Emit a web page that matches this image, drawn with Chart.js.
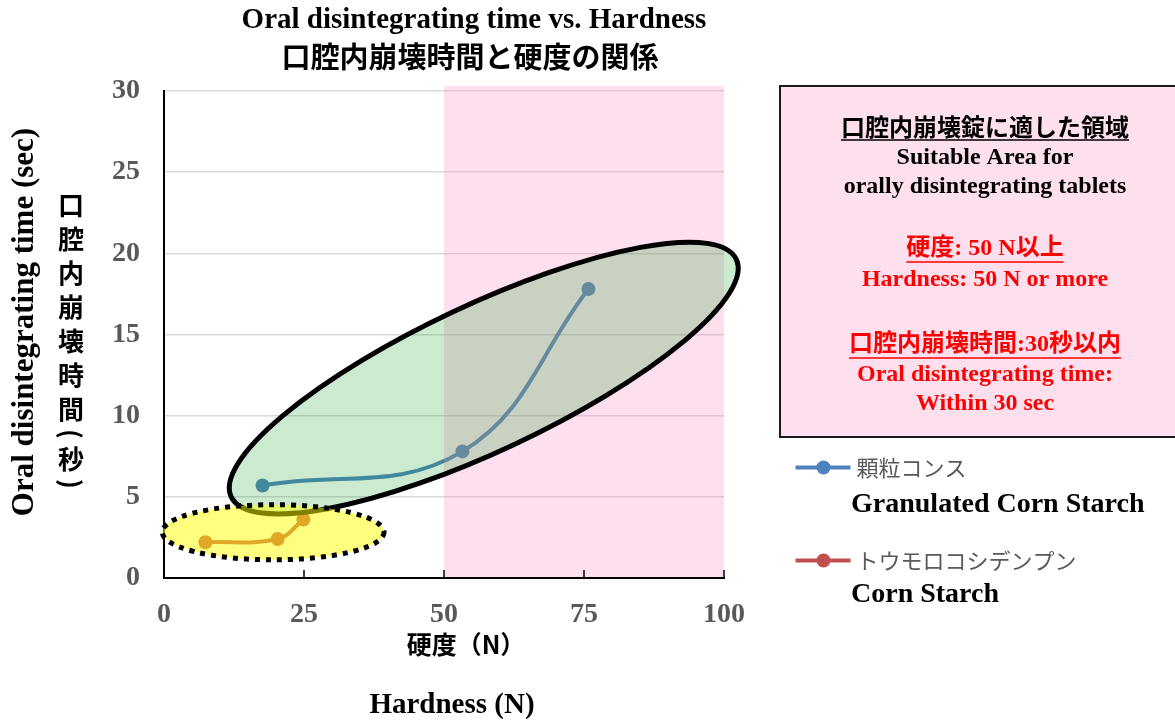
<!DOCTYPE html>
<html>
<head>
<meta charset="utf-8">
<script src="https://cdn.jsdelivr.net/npm/chart.js@4.4.1/dist/chart.umd.min.js"></script>
<style>
  html, body { margin: 0; padding: 0; background: #ffffff; overflow: hidden; }
  #wrap { width: 1175px; height: 721px; position: relative; }
  canvas { display: block; }
</style>
</head>
<body>
<div id="wrap"><canvas id="chart" width="1175" height="721"></canvas></div>
<script>
// Tick values of both axes
const hardnessTicks = [0, 25, 50, 75, 100];
const timeTicks = [0, 5, 10, 15, 20, 25, 30];

// 顆粒コンス (granulated corn starch)
const granulatedHardness = [17.6, 53.3, 75.8];
const granulatedTime = [5.7, 7.8, 17.8];

// トウモロコシデンプン (corn starch)
const cornHardness = [7.4, 20.3, 24.9];
const cornTime = [2.2, 2.4, 3.6];

// Suitable region for orally disintegrating tablets (hardness >= 50 N)
const suitableHardness = [50, 100];
const suitableTimeTop = 30.3;

// Outline around the granulated series: major-axis ends in data units
const granulatedZoneEnds = [[12.0, 5.0], [102.2, 19.63]];
const granulatedZoneHalfWidth = 73;
// Outline around the corn starch series: x range and y range in data units
const cornZoneX = [-0.3, 39.3];
const cornZoneY = [1.12, 4.52];

const SERIF = "'Liberation Serif', 'Times New Roman', 'Noto Sans CJK JP', serif";
const GOTHIC = "'Noto Sans CJK JP', 'Noto Sans', sans-serif";
const MIXED = "'Liberation Serif', 'Noto Sans CJK JP', serif";

const seriesBlue = '#4f81bd';
const seriesRed = '#c0504d';

function zip(xs, ys) { return xs.map((v, i) => ({ x: v, y: ys[i] })); }

function drawText(ctx, text, x, y, font, color, align, underline) {
  ctx.font = font;
  ctx.fillStyle = color;
  ctx.textAlign = align || 'center';
  ctx.textBaseline = 'middle';
  ctx.fillText(text, x, y);
  if (underline) {
    const w = ctx.measureText(text).width;
    let left = x;
    if (ctx.textAlign === 'center') left = x - w / 2;
    else if (ctx.textAlign === 'right') left = x - w;
    ctx.strokeStyle = color;
    ctx.lineWidth = 1.6;
    ctx.beginPath();
    ctx.moveTo(left, y + underline);
    ctx.lineTo(left + w, y + underline);
    ctx.stroke();
  }
}

const zones = {
  id: 'zones',
  afterDatasetsDraw(chart) {
    const { ctx, chartArea: ca, scales: { x, y } } = chart;
    ctx.save();

    // pink suitable region over the plot
    const rx0 = x.getPixelForValue(suitableHardness[0]);
    const rx1 = x.getPixelForValue(suitableHardness[1]);
    const ry0 = y.getPixelForValue(suitableTimeTop);
    ctx.fillStyle = 'rgba(248,141,194,0.28)';
    ctx.fillRect(rx0, ry0, rx1 - rx0, ca.bottom - 1 - ry0);

    // green zone
    const ax = x.getPixelForValue(granulatedZoneEnds[0][0]);
    const ay = y.getPixelForValue(granulatedZoneEnds[0][1]);
    const bx = x.getPixelForValue(granulatedZoneEnds[1][0]);
    const by = y.getPixelForValue(granulatedZoneEnds[1][1]);
    const cx = (ax + bx) / 2, cy = (ay + by) / 2;
    const semi = Math.hypot(bx - ax, by - ay) / 2;
    const ang = Math.atan2(by - ay, bx - ax);
    ctx.beginPath();
    ctx.ellipse(cx, cy, semi, granulatedZoneHalfWidth, ang, 0, Math.PI * 2);
    ctx.fillStyle = 'rgba(24,162,46,0.225)';
    ctx.fill();
    ctx.lineWidth = 5;
    ctx.strokeStyle = '#000000';
    ctx.stroke();

    // yellow zone
    const ex0 = x.getPixelForValue(cornZoneX[0]);
    const ex1 = x.getPixelForValue(cornZoneX[1]);
    const ey0 = y.getPixelForValue(cornZoneY[1]);
    const ey1 = y.getPixelForValue(cornZoneY[0]);
    ctx.beginPath();
    ctx.ellipse((ex0 + ex1) / 2, (ey0 + ey1) / 2, (ex1 - ex0) / 2, (ey1 - ey0) / 2, 0, 0, Math.PI * 2);
    ctx.fillStyle = 'rgba(255,255,0,0.5)';
    ctx.fill();
    ctx.setLineDash([5, 6]);
    ctx.lineWidth = 5;
    ctx.strokeStyle = '#000000';
    ctx.stroke();
    ctx.setLineDash([]);

    // inward tick marks on the hardness axis
    ctx.strokeStyle = '#000000';
    ctx.lineWidth = 1.5;
    hardnessTicks.forEach(v => {
      const px = x.getPixelForValue(v);
      ctx.beginPath();
      ctx.moveTo(px, ca.bottom);
      ctx.lineTo(px, ca.bottom - 8);
      ctx.stroke();
    });
    ctx.restore();
  },
  afterDraw(chart) {
    const { ctx } = chart;
    ctx.save();

    // titles
    drawText(ctx, 'Oral disintegrating time vs. Hardness', 474, 21, 'bold 29px ' + SERIF, '#000');
    drawText(ctx, '口腔内崩壊時間と硬度の関係', 470, 57, 'bold 29px ' + GOTHIC, '#000');

    // y-axis titles
    ctx.save();
    ctx.translate(25, 322);
    ctx.rotate(-Math.PI / 2);
    drawText(ctx, 'Oral disintegrating time (sec)', 0, 0, 'bold 31px ' + SERIF, '#000');
    ctx.restore();

    // vertical Japanese title, brackets turned for vertical writing
    const vertical = ['口', '腔', '内', '崩', '壊', '時', '間', '(', '秒', ')'];
    const isBracket = ch => ch === '(' || ch === ')';
    let vy = 205;
    vertical.forEach((ch, i) => {
      if (i > 0) {
        const hp = isBracket(vertical[i - 1]) ? 16 : 34;
        const hc = isBracket(ch) ? 16 : 34;
        vy += (hp + hc) / 2;
      }
      if (isBracket(ch)) {
        ctx.save();
        ctx.translate(71, vy);
        ctx.rotate(Math.PI / 2);
        drawText(ctx, ch, 0, 0, 'bold 26px ' + GOTHIC, '#000');
        ctx.restore();
      } else {
        drawText(ctx, ch, 71, vy, 'bold 26px ' + GOTHIC, '#000');
      }
    });

    // x-axis titles
    drawText(ctx, '硬度（N）', 466, 644, 'bold 25px ' + GOTHIC, '#000');
    drawText(ctx, 'Hardness (N)', 452, 706, 'bold 29px ' + SERIF, '#000');

    // information box
    ctx.fillStyle = '#fddfee';
    ctx.fillRect(780, 86, 420, 351);
    ctx.strokeStyle = '#1a1a1a';
    ctx.lineWidth = 2;
    ctx.strokeRect(780, 86, 420, 351);

    const bx = 985;
    drawText(ctx, '口腔内崩壊錠に適した領域', bx, 127, 'bold 24px ' + GOTHIC, '#000', 'center', 13);
    drawText(ctx, 'Suitable Area for', bx, 157.5, 'bold 24px ' + SERIF, '#000');
    drawText(ctx, 'orally disintegrating tablets', bx, 187, 'bold 24px ' + SERIF, '#000');
    drawText(ctx, '硬度: 50 N以上', bx, 249, 'bold 24px ' + MIXED, '#ff0000', 'center', 13);
    drawText(ctx, 'Hardness: 50 N or more', bx, 280, 'bold 24px ' + SERIF, '#ff0000');
    drawText(ctx, '口腔内崩壊時間:30秒以内', bx, 345, 'bold 24px ' + MIXED, '#ff0000', 'center', 13);
    drawText(ctx, 'Oral disintegrating time:', bx, 374.5, 'bold 24px ' + SERIF, '#ff0000');
    drawText(ctx, 'Within 30 sec', bx, 404, 'bold 24px ' + SERIF, '#ff0000');

    // legend
    const rows = [
      { ds: chart.data.datasets[0], y: 467.5, en: 'Granulated Corn Starch', ey: 505 },
      { ds: chart.data.datasets[1], y: 560.5, en: 'Corn Starch', ey: 595 }
    ];
    rows.forEach(r => {
      ctx.strokeStyle = r.ds.borderColor;
      ctx.lineWidth = 4;
      ctx.beginPath();
      ctx.moveTo(795.5, r.y);
      ctx.lineTo(850.5, r.y);
      ctx.stroke();
      ctx.fillStyle = r.ds.backgroundColor;
      ctx.beginPath();
      ctx.arc(823.5, r.y, 7, 0, Math.PI * 2);
      ctx.fill();
      drawText(ctx, r.ds.label, 856.5, r.y, '22px ' + GOTHIC, '#595959', 'left');
      drawText(ctx, r.en, 851, r.ey, 'bold 28px ' + SERIF, '#000', 'left');
    });

    ctx.restore();
  }
};

const tickFont = { family: SERIF, size: 28, weight: 'bold' };

new Chart(document.getElementById('chart'), {
  type: 'scatter',
  data: {
    datasets: [
      {
        label: '顆粒コンス',
        data: zip(granulatedHardness, granulatedTime),
        showLine: true,
        borderColor: seriesBlue,
        backgroundColor: seriesBlue,
        borderWidth: 4,
        pointRadius: 7,
        pointBorderWidth: 0,
        tension: 0.4
      },
      {
        label: 'トウモロコシデンプン',
        data: zip(cornHardness, cornTime),
        showLine: true,
        borderColor: seriesRed,
        backgroundColor: seriesRed,
        borderWidth: 4,
        pointRadius: 7,
        pointBorderWidth: 0,
        tension: 0.4
      }
    ]
  },
  options: {
    responsive: false,
    animation: false,
    events: [],
    layout: { padding: { left: 0, right: 451, top: 91, bottom: 0 } },
    plugins: {
      legend: { display: false },
      title: { display: false },
      tooltip: { enabled: false }
    },
    scales: {
      x: {
        type: 'linear',
        min: hardnessTicks[0],
        max: hardnessTicks[hardnessTicks.length - 1],
        afterBuildTicks: s => { s.ticks = hardnessTicks.map(v => ({ value: v })); },
        afterFit: s => { s.height = 143; },
        grid: { display: false, drawTicks: false },
        border: { display: true, color: '#000000', width: 2 },
        ticks: { padding: 20, color: '#595959', font: tickFont, maxRotation: 0 }
      },
      y: {
        type: 'linear',
        min: timeTicks[0],
        max: timeTicks[timeTicks.length - 1],
        afterBuildTicks: s => { s.ticks = timeTicks.map(v => ({ value: v })); },
        afterFit: s => { s.width = 164; },
        grid: {
          drawTicks: false,
          lineWidth: 1.5,
          color: c => (c.tick && c.tick.value === 0) ? 'rgba(0,0,0,0)' : '#d9d9d9'
        },
        border: { display: true, color: '#000000', width: 2 },
        ticks: { padding: 24, color: '#595959', font: tickFont }
      }
    }
  },
  plugins: [zones]
});
</script>
</body>
</html>
